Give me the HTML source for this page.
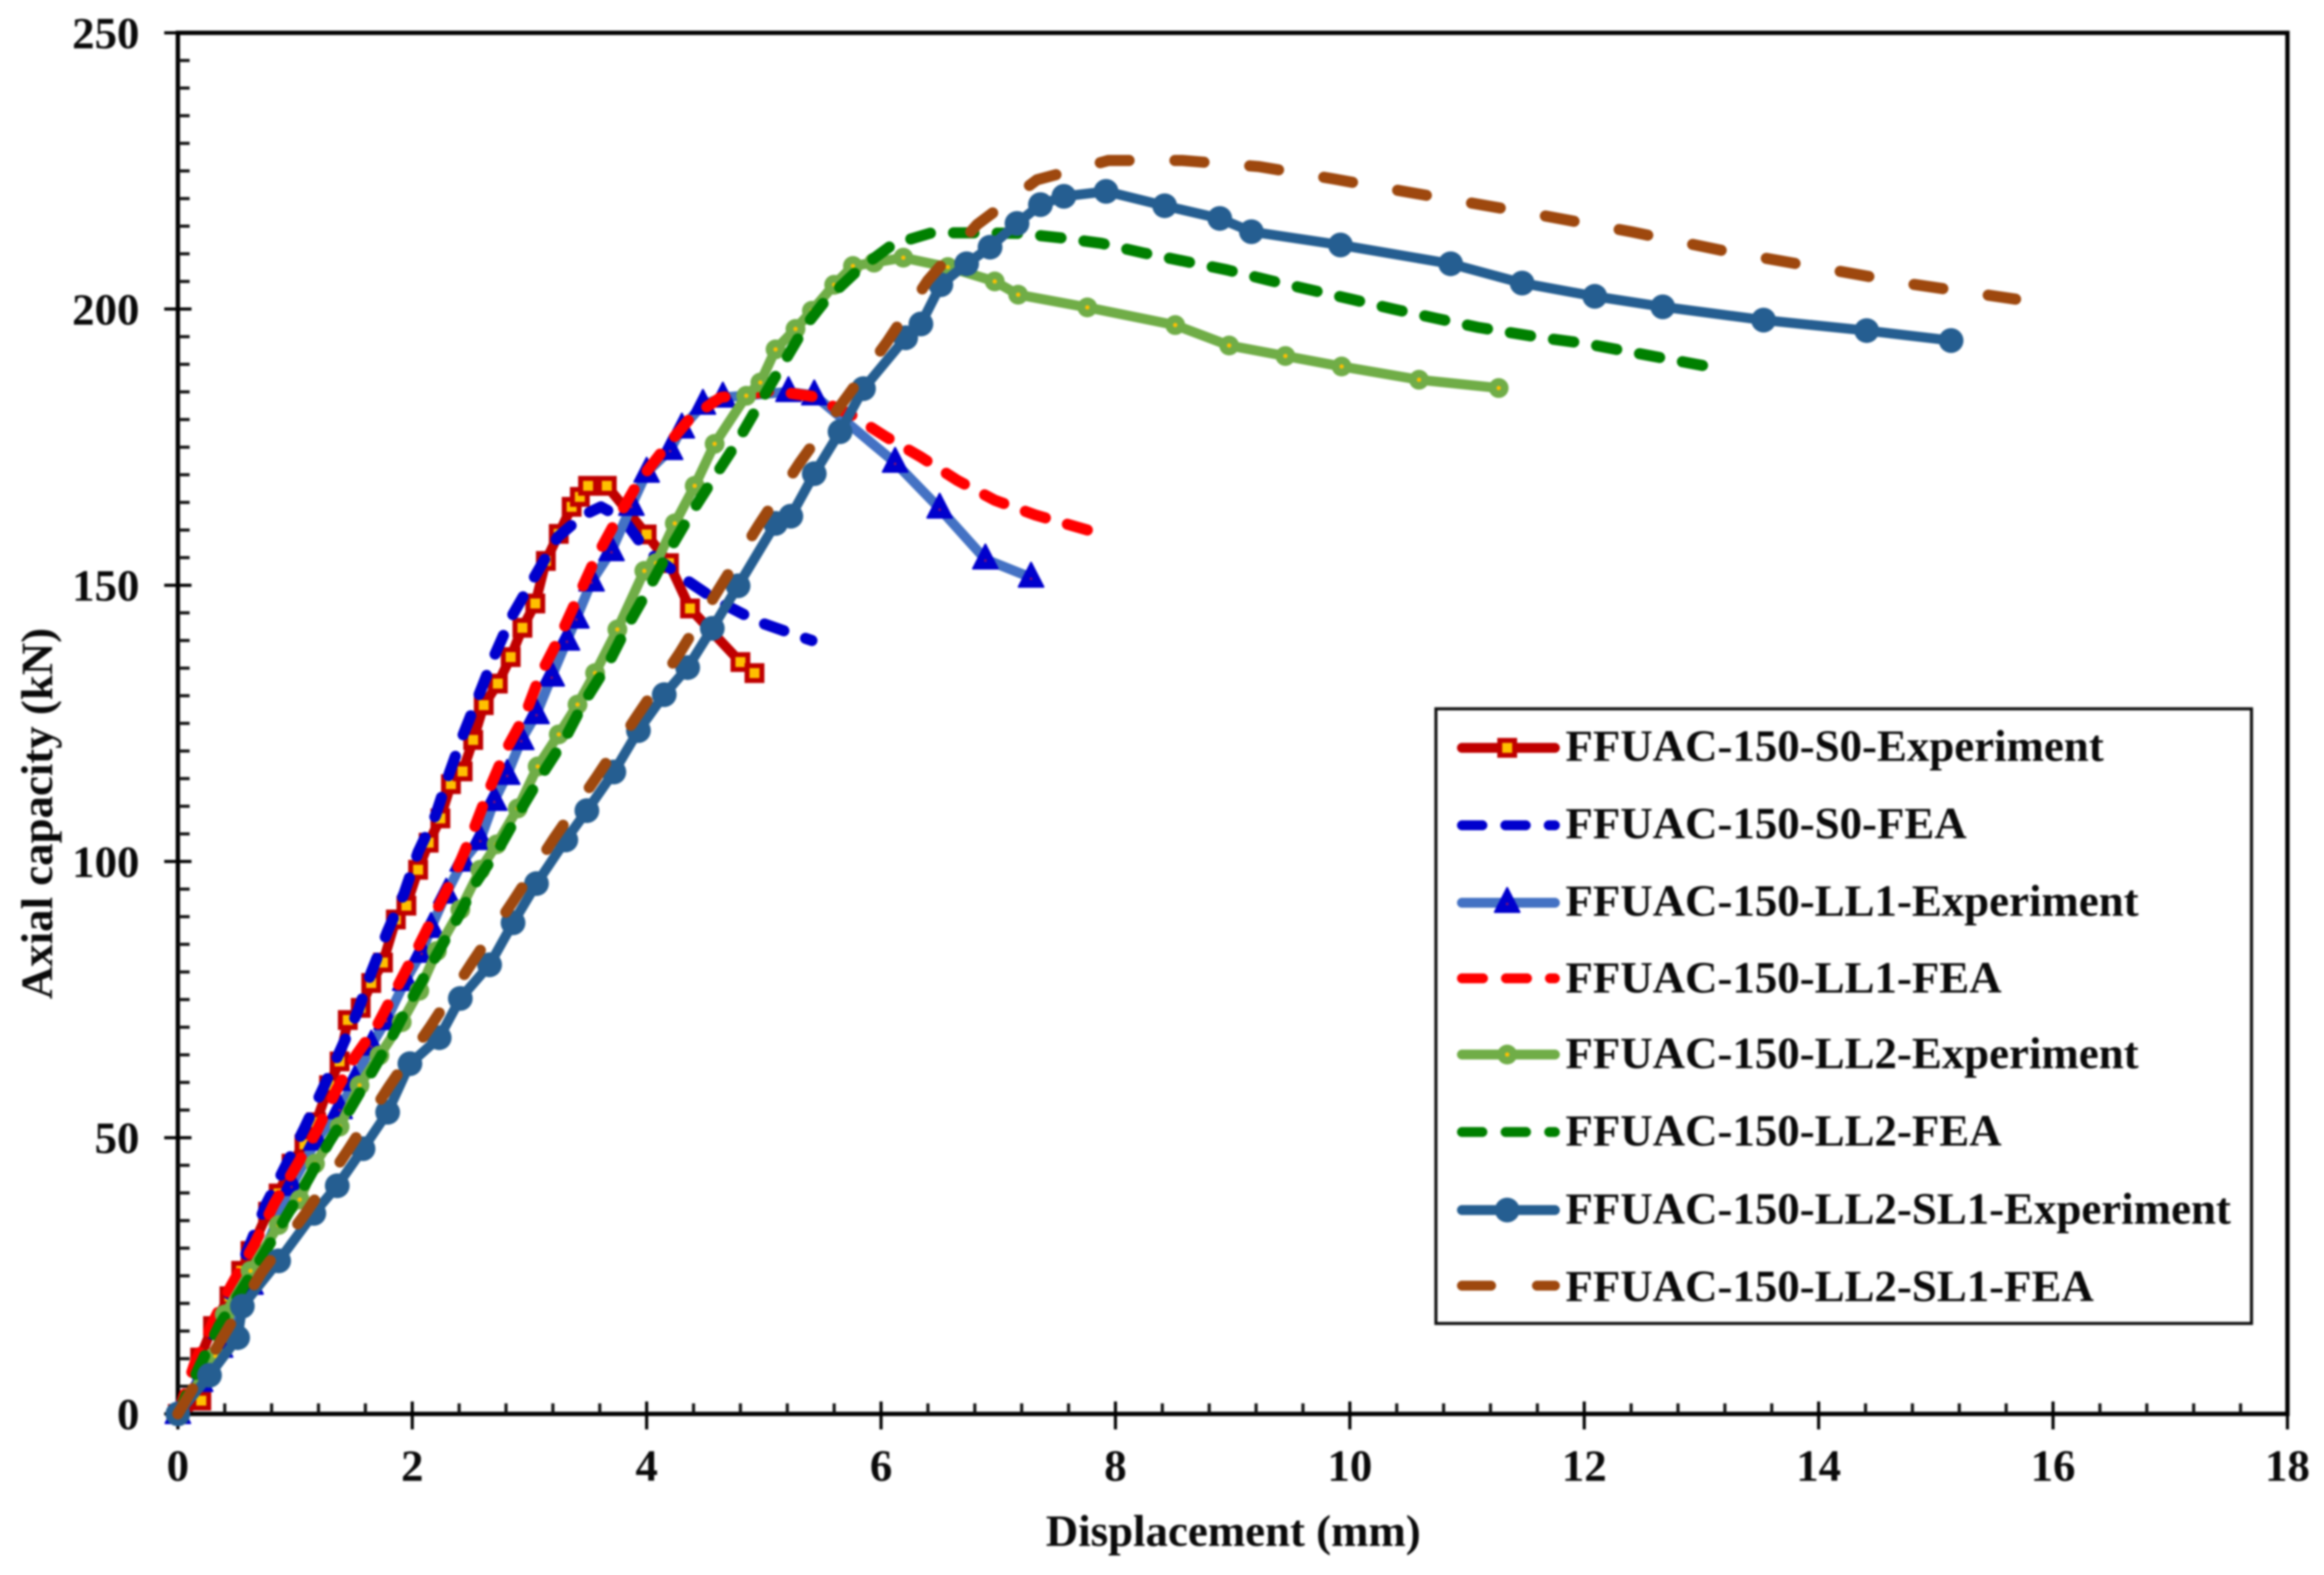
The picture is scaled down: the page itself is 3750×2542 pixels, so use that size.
<!DOCTYPE html>
<html lang="en">
<head>
<meta charset="utf-8">
<title>Axial capacity vs displacement</title>
<style>
html,body{margin:0;padding:0;background:#fff;}
#chart{display:block;width:3750px;height:2542px;filter:blur(1.5px);}
text{font-family:"Liberation Serif",serif;font-weight:bold;font-size:72.4px;fill:#0a0a0a;}
</style>
</head>
<body>
<svg id="chart" xmlns="http://www.w3.org/2000/svg" width="3750" height="2542" viewBox="0 0 3750 2542">
  <rect x="0" y="0" width="3750" height="2542" fill="#fff"/>
  <g id="axes"></g>
  <g id="series"></g>
  <text x="1990" y="2495" text-anchor="middle">Displacement (mm)</text>
  <text transform="translate(84 1313) rotate(-90)" text-anchor="middle">Axial capacity (kN)</text>
  <g id="legend">
    <rect x="2317" y="1144" width="1316" height="992" fill="#fff" stroke="#111" stroke-width="5"/>
    <text x="2526" y="1228">FFUAC-150-S0-Experiment</text>
    <text x="2526" y="1353">FFUAC-150-S0-FEA</text>
    <text x="2526" y="1478">FFUAC-150-LL1-Experiment</text>
    <text x="2526" y="1602">FFUAC-150-LL1-FEA</text>
    <text x="2526" y="1724">FFUAC-150-LL2-Experiment</text>
    <text x="2526" y="1849">FFUAC-150-LL2-FEA</text>
    <text x="2526" y="1975">FFUAC-150-LL2-SL1-Experiment</text>
    <text x="2526" y="2100">FFUAC-150-LL2-SL1-FEA</text>
  </g>
</svg>
<script>
const xTickLabels = [0,2,4,6,8,10,12,14,16,18];
const yTickLabels = [0,50,100,150,200,250];

const s0ExpX = [0,0.2,0.19,0.3,0.44,0.54,0.62,0.77,0.86,0.97,1.08,1.18,1.29,1.38,1.45,1.56,1.65,1.75,1.86,1.95,2.05,2.14,2.24,2.33,2.43,2.52,2.61,2.73,2.84,2.94,3.05,3.14,3.25,3.36,3.43,3.5,3.66,4.0,4.19,4.37,4.8,4.92];
const s0ExpY = [0,2.4,10.2,15.9,21.3,25.9,29.5,36.6,39.9,45.3,48.8,52.8,59.5,63.8,71.3,73.5,78,81.7,89.5,92,98.5,103.4,107.8,114,116.3,122,128.3,132.2,137,142.3,146.7,154.4,159.3,164.2,166,168,168,159.2,154,145.8,136.1,134.1];

const s0FeaX = [0,0.25,0.47,0.62,0.75,0.91,1.08,1.23,1.39,1.54,1.65,1.79,1.93,2.05,2.2,2.32,2.43,2.57,2.7,2.85,3.04,3.24,3.46,3.61,3.8,4,4.32,4.6,4.95,5.41];
const s0FeaY = [0,12,23.4,30.9,37.8,44.5,51.7,58.5,66,73.1,79.9,87.4,94.2,101.7,108.4,116.2,122.7,130.2,137.2,144.4,151.4,158.7,162.7,164.2,162,156.2,151.2,147.2,143.4,140];

const ll1ExpX = [0,0.19,0.36,0.62,0.97,1.18,1.38,1.51,1.65,1.78,1.94,2.08,2.16,2.29,2.43,2.58,2.7,2.81,2.93,3.06,3.19,3.32,3.4,3.53,3.7,3.87,4,4.2,4.3,4.48,4.65,5.21,5.43,6.12,6.5,6.89,7.28];
const ll1ExpY = [0,5.8,12,23.4,41.3,49.5,55.2,60.3,66.7,71.3,78.4,83.5,88,94.2,100,103.9,111,115.7,122,126.7,133.5,140,144,150.7,156.2,164.4,170.4,174.5,178.4,182.7,184,185,184.4,172.2,163.9,154.7,151.4];

const ll1FeaX = [0,0.15,0.3,0.45,0.66,0.82,1,1.18,1.35,1.51,1.7,1.89,2.05,2.22,2.37,2.51,2.65,2.8,2.96,3.09,3.26,3.41,3.56,3.74,3.93,4.15,4.37,4.63,5.08,5.41,5.75,6.04,6.34,6.65,6.97,7.32,7.76];
const ll1FeaY = [0,9.5,16.6,23,31,38,44.5,51,58.5,64.6,70.3,78,84.5,91.7,98,105,112.7,120.2,126.4,133.7,140.7,147.7,154.7,161.7,168.7,174.7,180.2,184,185.2,184.2,180.8,176.9,173.2,169,165.4,162.7,160];

const ll2ExpX = [0,0.32,0.4,0.62,0.86,1.04,1.17,1.38,1.55,1.72,1.91,2.06,2.21,2.41,2.58,2.72,2.9,3.07,3.25,3.41,3.56,3.75,3.98,4.08,4.24,4.41,4.58,4.85,4.97,5.1,5.27,5.41,5.6,5.76,5.94,6.19,6.57,6.97,7.17,7.76,8.51,8.97,9.45,9.93,10.59,11.27];
const ll2ExpY = [0,10.5,18,25.9,34.2,38.8,45.3,52,59.5,64.9,70.9,76.6,83.8,91.3,98.5,103.1,109.6,117.2,123,128.4,134.1,142,152.6,154,161.2,168,175.6,184.3,186.7,192.7,196.4,199.7,204.4,207.8,208.4,209.3,207.6,205,202.6,200.3,197.1,193.4,191.5,189.6,187.2,185.7];

const ll2FeaX = [0,0.19,0.35,0.62,0.89,1.11,1.29,1.47,1.67,1.84,1.99,2.2,2.39,2.55,2.74,2.91,3.09,3.3,3.46,3.67,3.83,4,4.19,4.37,4.56,4.76,4.93,5.11,5.36,5.52,5.8,6.1,6.43,6.81,7.18,7.53,7.88,8.23,8.6,8.95,9.31,9.66,10.01,10.37,10.74,11.09,11.64,12,12.5,13.03];
const ll2FeaY = [0,8.8,15.9,25,34.5,42.4,49.2,55.2,62.4,68.8,74.9,82.8,89.9,96.4,102.4,108.8,115.2,122.1,128.6,135.7,142.4,148.7,156.2,162.7,169,175.5,181.7,188.2,197.1,201.4,207,211.7,213.8,213.8,213.7,212.9,211.9,210.2,208.6,207.1,205.2,203.5,201.8,200,198.3,196.7,194.8,193.8,191.8,189.7];

const sl1ExpX = [0,0.27,0.51,0.55,0.86,1.16,1.36,1.58,1.79,1.98,2.23,2.41,2.66,2.86,3.06,3.31,3.49,3.72,3.93,4.15,4.35,4.56,4.78,5.1,5.23,5.43,5.65,5.85,6.21,6.34,6.51,6.73,6.93,7.16,7.36,7.56,7.92,8.42,8.89,9.16,9.92,10.86,11.47,12.09,12.67,13.53,14.41,15.13];
const sl1ExpY = [0,7,13.8,19.5,27.7,36.3,41.3,48,54.6,63.4,68.1,75.2,81.3,88.9,96,103.9,109.2,116.2,123.7,130.2,135.1,142.2,149.9,161.2,162.5,170.2,177.8,185.6,194.8,197.3,204.4,208.2,211.2,215.5,218.9,220.4,221.3,218.7,216.4,214,211.6,208.2,204.7,202.3,200.4,198,196.1,194.3];

const sl1FeaX = [0,0.38,0.71,1.09,1.45,1.8,2.16,2.51,2.86,3.21,3.57,3.92,4.28,4.61,4.95,5.3,5.67,6.05,6.4,6.82,7.33,7.94,8.57,9.22,9.85,10.46,11.5,12.4,13.2,14,14.8,15.68];
const sl1FeaY = [0,13.8,25.5,36.3,47.7,59.2,70.3,81.7,92.8,104.2,115.2,126.4,137.7,149.1,160.7,172,183,194,205.2,215.3,223.4,226.9,226.9,225.8,223.6,221.3,217.5,214,210.5,207.5,204.5,201.8];

const NS = 'http://www.w3.org/2000/svg';
const plotLeft = 287, plotRight = 3691, plotTop = 53, plotBottom = 2282;
const xMax = 18, yMax = 250, xMinorCount = 5, yMinorCount = 10;
function xScale(v){ return plotLeft + v / xMax * (plotRight - plotLeft); }
function yScale(v){ return plotBottom - v / yMax * (plotBottom - plotTop); }

function make(tag, parent, attrs){
  const el = document.createElementNS(NS, tag);
  for (const k in attrs) el.setAttribute(k, attrs[k]);
  parent.appendChild(el);
  return el;
}

const axes = document.getElementById('axes');

const frame = make('rect', axes, {x:plotLeft, y:plotTop, width:plotRight-plotLeft, height:plotBottom-plotTop, fill:'none', stroke:'#000', 'stroke-width':7});



xTickLabels.forEach(function(v, i){
  const px = xScale(v);
  const t = make('line', axes, {x1:px, x2:px, y1:plotBottom-20, y2:plotBottom+25, stroke:'#000', 'stroke-width':5});
  
  
  const label = make('text', axes, {x:px, y:2390, 'text-anchor':'middle'});
  label.textContent = v;
  
  
  if (i < xTickLabels.length - 1) {
    const step = (xTickLabels[i+1] - v) / xMinorCount;
    for (let m = 1; m < xMinorCount; m++) {
      const mx = xScale(v + m * step);
      const mt = make('line', axes, {x1:mx, x2:mx, y1:plotBottom-17, y2:plotBottom, stroke:'#111', 'stroke-width':5});
      
      
    }
  }
});

yTickLabels.forEach(function(v, i){
  const py = yScale(v);
  const t = make('line', axes, {x1:plotLeft-22, x2:plotLeft+22, y1:py, y2:py, stroke:'#000', 'stroke-width':5});
  
  
  const label = make('text', axes, {x:225, y:py+25, 'text-anchor':'end'});
  label.textContent = v;
  
  
  if (i < yTickLabels.length - 1) {
    const step = (yTickLabels[i+1] - v) / yMinorCount;
    for (let m = 1; m < yMinorCount; m++) {
      const my = yScale(v + m * step);
      const mt = make('line', axes, {x1:plotLeft, x2:plotLeft+19, y1:my, y2:my, stroke:'#111', 'stroke-width':5});
      
      
    }
  }
});

function drawMarker(parent, kind, cx, cy, key){
  let m;
  if (kind === 'square') {
    m = make('rect', parent, {x:cx-12, y:cy-12, width:24, height:24, fill:'#FFC000', stroke:'#C00000', 'stroke-width':8});
  } else if (kind === 'triangle') {
    m = make('g', parent, {});
    make('path', m, {d:'M'+cx+' '+(cy-24)+' L'+(cx+20)+' '+(cy+15)+' L'+(cx-20)+' '+(cy+15)+' Z', fill:'#0000CD', stroke:'#0000CD', 'stroke-width':3, 'stroke-linejoin':'round'});
    make('circle', m, {cx:cx, cy:cy+2, r:2, fill:'#9A1060'});
  } else if (kind === 'light-circle') {
    m = make('g', parent, {});
    make('circle', m, {cx:cx, cy:cy, r:16, fill:'#70AD47'});
    make('circle', m, {cx:cx, cy:cy, r:3.5, fill:'#FFC000'});
  } else {
    m = make('circle', parent, {cx:cx, cy:cy, r:20, fill:'#255E91'});
  }
  
  
}

const seriesGroup = document.getElementById('series');
const legendGroup = document.getElementById('legend');
const legendRows = [1207,1332,1457,1579,1702,1827,1953,2075];
const seriesDefs = [
  {key:'s0-experiment', xs:s0ExpX, ys:s0ExpY, color:'#C00000', marker:'square', width:16},
  {key:'s0-fea', xs:s0FeaX, ys:s0FeaY, color:'#0000CD', dash:'33 37', width:18},
  {key:'ll1-experiment', xs:ll1ExpX, ys:ll1ExpY, color:'#4472C4', marker:'triangle', width:16},
  {key:'ll1-fea', xs:ll1FeaX, ys:ll1FeaY, color:'#FF0000', dash:'34 37', width:18},
  {key:'ll2-experiment', xs:ll2ExpX, ys:ll2ExpY, color:'#70AD47', marker:'light-circle', width:16},
  {key:'ll2-fea', xs:ll2FeaX, ys:ll2FeaY, color:'#008000', dash:'33 37.4', width:18},
  {key:'ll2-sl1-experiment', xs:sl1ExpX, ys:sl1ExpY, color:'#255E91', marker:'dark-circle', width:16},
  {key:'ll2-sl1-fea', xs:sl1FeaX, ys:sl1FeaY, color:'#9E480E', dash:'47 74', width:18}
];

seriesDefs.forEach(function(s, idx){
  const d = s.xs.map(function(v, i){
    return (i ? 'L' : 'M') + xScale(v).toFixed(1) + ' ' + yScale(s.ys[i]).toFixed(1);
  }).join(' ');
  const line = make('path', seriesGroup, {d:d, fill:'none', stroke:s.color, 'stroke-width':s.width, 'stroke-linecap':'round', 'stroke-linejoin':'round'});
  if (s.dash) line.setAttribute('stroke-dasharray', s.dash);
  
  
  if (s.marker) {
    s.xs.forEach(function(v, i){
      drawMarker(seriesGroup, s.marker, xScale(v), yScale(s.ys[i]), s.key);
    });
  }
  const ly = legendRows[idx];
  const sample = make('line', legendGroup, {x1:2359, x2:2509, y1:ly, y2:ly, stroke:s.color, 'stroke-width':16, 'stroke-linecap':'round'});
  if (s.dash) sample.setAttribute('stroke-dasharray', s.dash);
  
  
  if (s.marker) drawMarker(legendGroup, s.marker, 2432, ly, 'legend-' + s.key);
});
</script>
</body>
</html>
